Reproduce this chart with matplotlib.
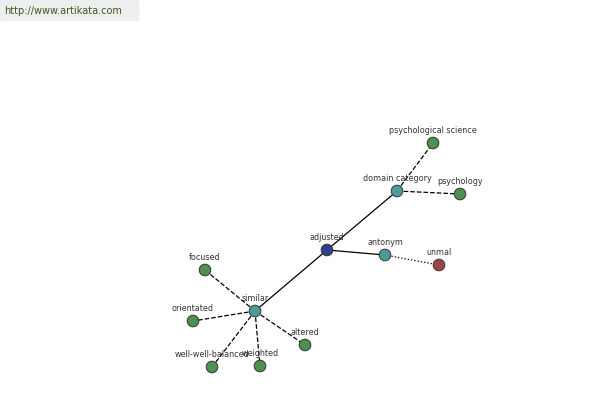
import matplotlib
matplotlib.use("Agg")
import matplotlib.pyplot as plt

names = ["adjusted", "domain category", "psychological science", "psychology",
         "antonym", "unmal", "similar", "focused", "orientated",
         "well-well-balanced", "weighted", "altered"]
xs = [327, 397, 433, 460, 385, 439, 255, 205, 193, 212, 260, 305]
ys = [250, 191, 143, 194, 255, 265, 311, 270, 321, 367, 366, 345]
colors = ["#2d3f8f", "#4e9a98", "#4f8f4f", "#4f8f4f", "#4e9a98", "#a04545",
          "#4e9a98", "#4f8f4f", "#4f8f4f", "#4f8f4f", "#4f8f4f", "#4f8f4f"]
edges = [(0, 1, "-"), (0, 4, "-"), (0, 6, "-"),
         (1, 2, "--"), (1, 3, "--"), (4, 5, ":"),
         (6, 7, "--"), (6, 8, "--"), (6, 9, "--"), (6, 10, "--"), (6, 11, "--")]

fig = plt.figure(figsize=(6, 4), dpi=100)
ax = fig.add_axes([0, 0, 1, 1])
ax.set_xlim(0, 600)
ax.set_ylim(400, 0)
ax.axis("off")

ax.add_patch(plt.Rectangle((0, 0), 138, 20, color="#eeeeee", zorder=0))
ax.text(4, 11, "http://www.artikata.com", fontsize=7, color="#3d5a1e", va="center", ha="left")

for a, b, ls in edges:
    ax.plot([xs[a], xs[b]], [ys[a], ys[b]], color="black", lw=0.9, ls=ls, zorder=1)

ax.scatter(xs, ys, s=70, c=colors, edgecolors="#333333", linewidths=0.7, zorder=2)
for n, x, y in zip(names, xs, ys):
    ax.text(x, y - 8, n, fontsize=5.8, color="#333333", ha="center", va="bottom", zorder=3)

fig.savefig("out.png", dpi=100)
